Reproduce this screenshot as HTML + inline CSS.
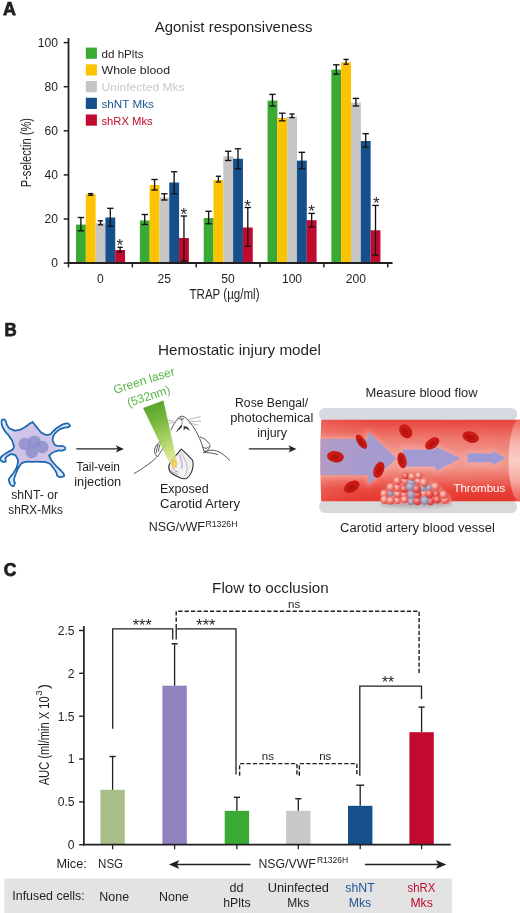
<!DOCTYPE html>
<html lang="en"><head><meta charset="utf-8"><title>Figure</title>
<style>
html,body{margin:0;padding:0;background:#fff;}
body{width:520px;height:913px;overflow:hidden;}
svg{display:block;}
svg{fill:#231f20;}
svg text{font-family:"Liberation Sans",sans-serif;}
</style></head><body>
<svg width="520" height="913" viewBox="0 0 520 913">
<defs>
<linearGradient id="beam" x1="153" y1="404" x2="173.5" y2="463" gradientUnits="userSpaceOnUse">
<stop offset="0" stop-color="#58a52c"/><stop offset="0.35" stop-color="#79b93a" stop-opacity="0.95"/><stop offset="0.75" stop-color="#b8d862" stop-opacity="0.85"/><stop offset="1" stop-color="#e6ec8c" stop-opacity="0.8"/>
</linearGradient>
<radialGradient id="glow"><stop offset="0" stop-color="#fff3a0"/><stop offset="0.45" stop-color="#f9c04a"/><stop offset="1" stop-color="#f0a040" stop-opacity="0"/></radialGradient>
<linearGradient id="lumv" x1="0" y1="419.8" x2="0" y2="501.3" gradientUnits="userSpaceOnUse">
<stop offset="0" stop-color="#e8463e"/><stop offset="0.08" stop-color="#ea564d"/><stop offset="0.25" stop-color="#ef7f75"/><stop offset="0.45" stop-color="#f39b91"/><stop offset="0.58" stop-color="#f39b91"/><stop offset="0.72" stop-color="#ee7268"/><stop offset="0.86" stop-color="#e8443a"/><stop offset="1" stop-color="#e6342a"/>
</linearGradient>
<linearGradient id="lumh" x1="320" y1="0" x2="510" y2="0" gradientUnits="userSpaceOnUse">
<stop offset="0" stop-color="#f7b0a8" stop-opacity="0.2"/><stop offset="0.4" stop-color="#e8392f" stop-opacity="0"/><stop offset="1" stop-color="#e6352e" stop-opacity="0.08"/>
</linearGradient>
<linearGradient id="cap" x1="0" y1="419.8" x2="0" y2="501.3" gradientUnits="userSpaceOnUse">
<stop offset="0" stop-color="#ed6c62"/><stop offset="0.28" stop-color="#f6b4ac"/><stop offset="0.5" stop-color="#f9cdc6"/><stop offset="0.72" stop-color="#f6b0a7"/><stop offset="1" stop-color="#ec5d52"/>
</linearGradient>
<linearGradient id="arr1" x1="320" y1="0" x2="397" y2="0" gradientUnits="userSpaceOnUse">
<stop offset="0" stop-color="#b29bc6"/><stop offset="0.5" stop-color="#a99bcd"/><stop offset="1" stop-color="#a59bd0"/>
</linearGradient>
<radialGradient id="rbc" cx="0.45" cy="0.4" r="0.7"><stop offset="0" stop-color="#d41e18"/><stop offset="0.65" stop-color="#c91813"/><stop offset="1" stop-color="#a60f0c"/></radialGradient>
<radialGradient id="sp1" cx="0.38" cy="0.35" r="0.75"><stop offset="0" stop-color="#fcdad5"/><stop offset="0.45" stop-color="#f2837b"/><stop offset="1" stop-color="#da3a35"/></radialGradient>
<radialGradient id="sp2" cx="0.38" cy="0.35" r="0.75"><stop offset="0" stop-color="#f8b8b0"/><stop offset="0.5" stop-color="#e8554e"/><stop offset="1" stop-color="#cb2a28"/></radialGradient>
<radialGradient id="plt" cx="0.4" cy="0.38" r="0.75"><stop offset="0" stop-color="#cbc6da"/><stop offset="0.55" stop-color="#9a93b6"/><stop offset="1" stop-color="#7c759a"/></radialGradient>
<radialGradient id="cellf" cx="33" cy="447" r="36" gradientUnits="userSpaceOnUse"><stop offset="0" stop-color="#cdbfe3"/><stop offset="0.55" stop-color="#d2c4e8"/><stop offset="0.8" stop-color="#d6d9f4"/><stop offset="1" stop-color="#dfeafb"/></radialGradient>
<filter id="blur04"><feGaussianBlur stdDeviation="0.45"/></filter>
<filter id="blur05"><feGaussianBlur stdDeviation="0.5"/></filter>
<filter id="blur3" x="-20%" y="-20%" width="140%" height="140%"><feGaussianBlur stdDeviation="2.4"/></filter>
<filter id="blur1" x="-20%" y="-50%" width="140%" height="200%"><feGaussianBlur stdDeviation="1.5"/></filter>
</defs>
<g id="panelA">
<text x="3.0" y="14.8" font-size="17.5" textLength="13.0" lengthAdjust="spacingAndGlyphs" font-weight="bold" stroke="#231f20" stroke-width="0.75" stroke-linejoin="round">A</text>
<text x="154.7" y="32.4" font-size="14.3" textLength="157.8" lengthAdjust="spacingAndGlyphs">Agonist responsiveness</text>
<rect x="76.00" y="224.60" width="9.85" height="38.40" fill="#3aaa35"/>
<rect x="85.80" y="194.20" width="9.85" height="68.80" fill="#fdc300"/>
<rect x="95.60" y="223.30" width="9.85" height="39.70" fill="#c6c6c6"/>
<rect x="105.40" y="217.50" width="9.85" height="45.50" fill="#15508d"/>
<rect x="115.20" y="250.00" width="9.85" height="13.00" fill="#c10a2e"/>
<rect x="139.85" y="220.50" width="9.85" height="42.50" fill="#3aaa35"/>
<rect x="149.65" y="185.00" width="9.85" height="78.00" fill="#fdc300"/>
<rect x="159.45" y="197.50" width="9.85" height="65.50" fill="#c6c6c6"/>
<rect x="169.25" y="182.50" width="9.85" height="80.50" fill="#15508d"/>
<rect x="179.05" y="238.00" width="9.85" height="25.00" fill="#c10a2e"/>
<rect x="203.70" y="218.00" width="9.85" height="45.00" fill="#3aaa35"/>
<rect x="213.50" y="180.00" width="9.85" height="83.00" fill="#fdc300"/>
<rect x="223.30" y="156.25" width="9.85" height="106.75" fill="#c6c6c6"/>
<rect x="233.10" y="158.75" width="9.85" height="104.25" fill="#15508d"/>
<rect x="242.90" y="227.50" width="9.85" height="35.50" fill="#c10a2e"/>
<rect x="267.55" y="100.60" width="9.85" height="162.40" fill="#3aaa35"/>
<rect x="277.35" y="118.00" width="9.85" height="145.00" fill="#fdc300"/>
<rect x="287.15" y="116.70" width="9.85" height="146.30" fill="#c6c6c6"/>
<rect x="296.95" y="160.60" width="9.85" height="102.40" fill="#15508d"/>
<rect x="306.75" y="220.20" width="9.85" height="42.80" fill="#c10a2e"/>
<rect x="331.40" y="69.60" width="9.85" height="193.40" fill="#3aaa35"/>
<rect x="341.20" y="62.30" width="9.85" height="200.70" fill="#fdc300"/>
<rect x="351.00" y="102.70" width="9.85" height="160.30" fill="#c6c6c6"/>
<rect x="360.80" y="141.00" width="9.85" height="122.00" fill="#15508d"/>
<rect x="370.60" y="230.30" width="9.85" height="32.70" fill="#c10a2e"/>
<line x1="80.90" y1="217.5" x2="80.90" y2="230.8" stroke="#141414" stroke-width="1.35"/>
<line x1="77.70" y1="217.5" x2="84.10" y2="217.5" stroke="#141414" stroke-width="1.35"/>
<line x1="77.70" y1="230.8" x2="84.10" y2="230.8" stroke="#141414" stroke-width="1.35"/>
<line x1="90.70" y1="193.6" x2="90.70" y2="195.3" stroke="#141414" stroke-width="1.35"/>
<line x1="88.10" y1="193.6" x2="93.30" y2="193.6" stroke="#141414" stroke-width="1.35"/>
<line x1="88.10" y1="195.3" x2="93.30" y2="195.3" stroke="#141414" stroke-width="1.35"/>
<line x1="100.50" y1="220.8" x2="100.50" y2="224.8" stroke="#141414" stroke-width="1.35"/>
<line x1="97.90" y1="220.8" x2="103.10" y2="220.8" stroke="#141414" stroke-width="1.35"/>
<line x1="97.90" y1="224.8" x2="103.10" y2="224.8" stroke="#141414" stroke-width="1.35"/>
<line x1="110.30" y1="208.3" x2="110.30" y2="226.2" stroke="#141414" stroke-width="1.35"/>
<line x1="107.10" y1="208.3" x2="113.50" y2="208.3" stroke="#141414" stroke-width="1.35"/>
<line x1="107.10" y1="226.2" x2="113.50" y2="226.2" stroke="#141414" stroke-width="1.35"/>
<line x1="120.10" y1="247.3" x2="120.10" y2="252.0" stroke="#141414" stroke-width="1.35"/>
<line x1="117.50" y1="247.3" x2="122.70" y2="247.3" stroke="#141414" stroke-width="1.35"/>
<line x1="117.50" y1="252.0" x2="122.70" y2="252.0" stroke="#141414" stroke-width="1.35"/>
<line x1="144.75" y1="214.5" x2="144.75" y2="224.5" stroke="#141414" stroke-width="1.35"/>
<line x1="141.55" y1="214.5" x2="147.95" y2="214.5" stroke="#141414" stroke-width="1.35"/>
<line x1="141.55" y1="224.5" x2="147.95" y2="224.5" stroke="#141414" stroke-width="1.35"/>
<line x1="154.55" y1="179.5" x2="154.55" y2="190.0" stroke="#141414" stroke-width="1.35"/>
<line x1="151.35" y1="179.5" x2="157.75" y2="179.5" stroke="#141414" stroke-width="1.35"/>
<line x1="151.35" y1="190.0" x2="157.75" y2="190.0" stroke="#141414" stroke-width="1.35"/>
<line x1="164.35" y1="193.75" x2="164.35" y2="200.0" stroke="#141414" stroke-width="1.35"/>
<line x1="161.15" y1="193.75" x2="167.55" y2="193.75" stroke="#141414" stroke-width="1.35"/>
<line x1="161.15" y1="200.0" x2="167.55" y2="200.0" stroke="#141414" stroke-width="1.35"/>
<line x1="174.15" y1="171.75" x2="174.15" y2="193.75" stroke="#141414" stroke-width="1.35"/>
<line x1="170.95" y1="171.75" x2="177.35" y2="171.75" stroke="#141414" stroke-width="1.35"/>
<line x1="170.95" y1="193.75" x2="177.35" y2="193.75" stroke="#141414" stroke-width="1.35"/>
<line x1="183.95" y1="216.0" x2="183.95" y2="261.0" stroke="#141414" stroke-width="1.35"/>
<line x1="180.75" y1="216.0" x2="187.15" y2="216.0" stroke="#141414" stroke-width="1.35"/>
<line x1="180.75" y1="261.0" x2="187.15" y2="261.0" stroke="#141414" stroke-width="1.35"/>
<line x1="208.60" y1="211.25" x2="208.60" y2="223.75" stroke="#141414" stroke-width="1.35"/>
<line x1="205.40" y1="211.25" x2="211.80" y2="211.25" stroke="#141414" stroke-width="1.35"/>
<line x1="205.40" y1="223.75" x2="211.80" y2="223.75" stroke="#141414" stroke-width="1.35"/>
<line x1="218.40" y1="176.25" x2="218.40" y2="182.0" stroke="#141414" stroke-width="1.35"/>
<line x1="215.80" y1="176.25" x2="221.00" y2="176.25" stroke="#141414" stroke-width="1.35"/>
<line x1="215.80" y1="182.0" x2="221.00" y2="182.0" stroke="#141414" stroke-width="1.35"/>
<line x1="228.20" y1="151.25" x2="228.20" y2="160.5" stroke="#141414" stroke-width="1.35"/>
<line x1="225.00" y1="151.25" x2="231.40" y2="151.25" stroke="#141414" stroke-width="1.35"/>
<line x1="225.00" y1="160.5" x2="231.40" y2="160.5" stroke="#141414" stroke-width="1.35"/>
<line x1="238.00" y1="148.75" x2="238.00" y2="168.75" stroke="#141414" stroke-width="1.35"/>
<line x1="234.80" y1="148.75" x2="241.20" y2="148.75" stroke="#141414" stroke-width="1.35"/>
<line x1="234.80" y1="168.75" x2="241.20" y2="168.75" stroke="#141414" stroke-width="1.35"/>
<line x1="247.80" y1="207.5" x2="247.80" y2="246.25" stroke="#141414" stroke-width="1.35"/>
<line x1="244.60" y1="207.5" x2="251.00" y2="207.5" stroke="#141414" stroke-width="1.35"/>
<line x1="244.60" y1="246.25" x2="251.00" y2="246.25" stroke="#141414" stroke-width="1.35"/>
<line x1="272.45" y1="94.4" x2="272.45" y2="106.0" stroke="#141414" stroke-width="1.35"/>
<line x1="269.25" y1="94.4" x2="275.65" y2="94.4" stroke="#141414" stroke-width="1.35"/>
<line x1="269.25" y1="106.0" x2="275.65" y2="106.0" stroke="#141414" stroke-width="1.35"/>
<line x1="282.25" y1="113.2" x2="282.25" y2="120.8" stroke="#141414" stroke-width="1.35"/>
<line x1="279.05" y1="113.2" x2="285.45" y2="113.2" stroke="#141414" stroke-width="1.35"/>
<line x1="279.05" y1="120.8" x2="285.45" y2="120.8" stroke="#141414" stroke-width="1.35"/>
<line x1="292.05" y1="114.0" x2="292.05" y2="117.6" stroke="#141414" stroke-width="1.35"/>
<line x1="289.45" y1="114.0" x2="294.65" y2="114.0" stroke="#141414" stroke-width="1.35"/>
<line x1="289.45" y1="117.6" x2="294.65" y2="117.6" stroke="#141414" stroke-width="1.35"/>
<line x1="301.85" y1="152.3" x2="301.85" y2="168.7" stroke="#141414" stroke-width="1.35"/>
<line x1="298.65" y1="152.3" x2="305.05" y2="152.3" stroke="#141414" stroke-width="1.35"/>
<line x1="298.65" y1="168.7" x2="305.05" y2="168.7" stroke="#141414" stroke-width="1.35"/>
<line x1="311.65" y1="213.4" x2="311.65" y2="227.0" stroke="#141414" stroke-width="1.35"/>
<line x1="308.45" y1="213.4" x2="314.85" y2="213.4" stroke="#141414" stroke-width="1.35"/>
<line x1="308.45" y1="227.0" x2="314.85" y2="227.0" stroke="#141414" stroke-width="1.35"/>
<line x1="336.30" y1="64.8" x2="336.30" y2="74.2" stroke="#141414" stroke-width="1.35"/>
<line x1="333.10" y1="64.8" x2="339.50" y2="64.8" stroke="#141414" stroke-width="1.35"/>
<line x1="333.10" y1="74.2" x2="339.50" y2="74.2" stroke="#141414" stroke-width="1.35"/>
<line x1="346.10" y1="59.4" x2="346.10" y2="64.2" stroke="#141414" stroke-width="1.35"/>
<line x1="343.50" y1="59.4" x2="348.70" y2="59.4" stroke="#141414" stroke-width="1.35"/>
<line x1="343.50" y1="64.2" x2="348.70" y2="64.2" stroke="#141414" stroke-width="1.35"/>
<line x1="355.90" y1="98.4" x2="355.90" y2="106.0" stroke="#141414" stroke-width="1.35"/>
<line x1="352.70" y1="98.4" x2="359.10" y2="98.4" stroke="#141414" stroke-width="1.35"/>
<line x1="352.70" y1="106.0" x2="359.10" y2="106.0" stroke="#141414" stroke-width="1.35"/>
<line x1="365.70" y1="133.7" x2="365.70" y2="147.2" stroke="#141414" stroke-width="1.35"/>
<line x1="362.50" y1="133.7" x2="368.90" y2="133.7" stroke="#141414" stroke-width="1.35"/>
<line x1="362.50" y1="147.2" x2="368.90" y2="147.2" stroke="#141414" stroke-width="1.35"/>
<line x1="375.50" y1="205.4" x2="375.50" y2="255.1" stroke="#141414" stroke-width="1.35"/>
<line x1="372.30" y1="205.4" x2="378.70" y2="205.4" stroke="#141414" stroke-width="1.35"/>
<line x1="372.30" y1="255.1" x2="378.70" y2="255.1" stroke="#141414" stroke-width="1.35"/>
<text x="119.8" y="250.9" font-size="17" text-anchor="middle">*</text>
<text x="183.75" y="220.0" font-size="17" text-anchor="middle">*</text>
<text x="247.5" y="212.0" font-size="17" text-anchor="middle">*</text>
<text x="311.6" y="217.0" font-size="17" text-anchor="middle">*</text>
<text x="376.3" y="209.0" font-size="17" text-anchor="middle">*</text>
<line x1="68.5" y1="38" x2="68.5" y2="263.9" stroke="#231f20" stroke-width="1.8"/>
<line x1="67.6" y1="263.0" x2="392.6" y2="263.0" stroke="#231f20" stroke-width="1.8"/>
<line x1="63.7" y1="263.1" x2="68.5" y2="263.1" stroke="#231f20" stroke-width="1.5"/>
<text x="58.0" y="267.3" font-size="12.1" text-anchor="end">0</text>
<line x1="63.7" y1="219.0" x2="68.5" y2="219.0" stroke="#231f20" stroke-width="1.5"/>
<text x="58.0" y="223.2" font-size="12.1" text-anchor="end">20</text>
<line x1="63.7" y1="174.9" x2="68.5" y2="174.9" stroke="#231f20" stroke-width="1.5"/>
<text x="58.0" y="179.1" font-size="12.1" text-anchor="end">40</text>
<line x1="63.7" y1="130.8" x2="68.5" y2="130.8" stroke="#231f20" stroke-width="1.5"/>
<text x="58.0" y="135.0" font-size="12.1" text-anchor="end">60</text>
<line x1="63.7" y1="86.7" x2="68.5" y2="86.7" stroke="#231f20" stroke-width="1.5"/>
<text x="58.0" y="90.9" font-size="12.1" text-anchor="end">80</text>
<line x1="63.7" y1="42.6" x2="68.5" y2="42.6" stroke="#231f20" stroke-width="1.5"/>
<text x="58.0" y="46.8" font-size="12.1" text-anchor="end">100</text>
<line x1="68.50" y1="263.0" x2="68.50" y2="267.4" stroke="#231f20" stroke-width="1.5"/>
<line x1="132.35" y1="263.0" x2="132.35" y2="267.4" stroke="#231f20" stroke-width="1.5"/>
<line x1="196.20" y1="263.0" x2="196.20" y2="267.4" stroke="#231f20" stroke-width="1.5"/>
<line x1="260.05" y1="263.0" x2="260.05" y2="267.4" stroke="#231f20" stroke-width="1.5"/>
<line x1="323.90" y1="263.0" x2="323.90" y2="267.4" stroke="#231f20" stroke-width="1.5"/>
<line x1="387.75" y1="263.0" x2="387.75" y2="267.4" stroke="#231f20" stroke-width="1.5"/>
<text x="100.4" y="282.6" font-size="12.1" text-anchor="middle">0</text>
<text x="164.3" y="282.6" font-size="12.1" text-anchor="middle">25</text>
<text x="228.1" y="282.6" font-size="12.1" text-anchor="middle">50</text>
<text x="292.0" y="282.6" font-size="12.1" text-anchor="middle">100</text>
<text x="355.8" y="282.6" font-size="12.1" text-anchor="middle">200</text>
<text x="189.5" y="298.7" font-size="14.4" textLength="70" lengthAdjust="spacingAndGlyphs">TRAP (µg/ml)</text>
<text x="30.7" y="187.3" font-size="15.2" textLength="69.4" lengthAdjust="spacingAndGlyphs" transform="rotate(-90 30.7 187.3)">P-selectin (%)</text>
<rect x="85.80" y="47.60" width="11.10" height="11.20" fill="#3aaa35"/>
<text x="101.5" y="57.7" font-size="11.6" textLength="42" lengthAdjust="spacingAndGlyphs">dd hPlts</text>
<rect x="85.80" y="64.32" width="11.10" height="11.20" fill="#fdc300"/>
<text x="101.5" y="74.4" font-size="11.6" textLength="68.5" lengthAdjust="spacingAndGlyphs">Whole blood</text>
<rect x="85.80" y="81.04" width="11.10" height="11.20" fill="#c6c6c6"/>
<text x="101.5" y="91.1" font-size="11.6" fill="#c9c9c9" textLength="83" lengthAdjust="spacingAndGlyphs">Uninfected Mks</text>
<rect x="85.80" y="97.76" width="11.10" height="11.20" fill="#15508d"/>
<text x="101.5" y="107.9" font-size="11.6" fill="#1d5794" textLength="52.3" lengthAdjust="spacingAndGlyphs">shNT Mks</text>
<rect x="85.80" y="114.48" width="11.10" height="11.20" fill="#c10a2e"/>
<text x="101.5" y="124.6" font-size="11.6" fill="#c10a2e" textLength="51.2" lengthAdjust="spacingAndGlyphs">shRX Mks</text>
</g>
<g id="panelB">
<text x="4.4" y="335.7" font-size="17.5" textLength="12.2" lengthAdjust="spacingAndGlyphs" font-weight="bold" stroke="#231f20" stroke-width="0.75" stroke-linejoin="round">B</text>
<text x="158" y="354.8" font-size="14.3" textLength="163" lengthAdjust="spacingAndGlyphs">Hemostatic injury model</text>
<path d="M3.3,419.5 C4.7,419.1 4.3,419.1 5.7,421.2 C7.1,423.3 5.5,423.0 7.4,425.7 C9.3,428.4 7.9,427.9 11.5,429.4 C15.1,430.9 13.7,430.9 18.1,430.2 C22.5,429.5 20.2,429.8 24.6,427.3 C29.0,424.8 28.2,424.1 31.2,422.8 C34.2,421.5 31.3,421.3 33.6,423.4 C35.9,425.5 35.0,425.6 38.2,429.0 C41.4,432.4 39.5,431.6 43.1,433.5 C46.7,435.4 45.6,435.4 48.9,434.7 C52.2,434.0 50.0,433.9 53.0,431.4 C56.0,428.9 53.8,429.9 57.9,427.3 C62.0,424.7 61.5,424.4 65.3,423.6 C69.1,422.8 68.3,423.8 69.4,424.9 C70.5,426.0 70.8,425.8 68.6,426.9 C66.4,428.0 66.7,426.6 62.9,428.1 C59.1,429.6 60.4,428.4 57.1,431.4 C53.8,434.4 54.1,433.4 53.0,437.2 C51.9,441.0 52.4,440.0 53.8,442.9 C55.2,445.8 54.1,444.7 57.1,445.8 C60.1,446.9 60.2,445.4 62.9,446.2 C65.6,447.0 65.3,446.9 65.3,448.3 C65.3,449.7 65.9,449.4 62.9,450.3 C59.9,451.2 60.4,449.7 56.3,451.1 C52.2,452.5 52.6,452.2 50.5,454.4 C48.4,456.6 48.7,454.4 50.1,457.7 C51.5,461.0 50.9,459.9 54.6,464.3 C58.3,468.7 58.2,467.6 61.2,470.9 C64.2,474.2 63.1,472.2 63.7,474.1 C64.3,476.0 64.8,475.9 62.9,476.6 C61.0,477.3 60.1,477.6 57.9,476.2 C55.7,474.8 57.9,475.4 56.3,472.5 C54.7,469.6 55.7,470.8 53.0,467.6 C50.3,464.4 52.5,464.9 48.1,463.0 C43.7,461.1 45.0,462.2 39.9,461.8 C34.8,461.4 38.0,461.7 32.9,461.8 C27.8,461.9 29.0,460.8 24.6,462.2 C20.2,463.6 22.4,462.5 19.7,465.9 C17.0,469.3 18.3,467.8 16.4,472.5 C14.5,477.2 14.5,476.3 14.0,479.9 C13.5,483.5 15.4,481.2 14.8,483.2 C14.2,485.2 14.2,486.8 12.3,486.0 C10.4,485.2 9.5,483.8 9.0,480.7 C8.5,477.6 8.8,479.9 10.7,476.6 C12.6,473.3 12.5,475.3 14.8,470.9 C17.1,466.5 17.0,467.9 17.7,463.5 C18.4,459.1 18.3,460.7 16.8,457.7 C15.3,454.7 16.0,455.1 13.1,454.4 C10.2,453.7 10.7,454.3 8.2,455.7 C5.7,457.1 6.7,456.5 5.7,458.5 C4.7,460.5 6.7,461.0 5.3,461.8 C3.9,462.6 3.2,462.1 1.6,461.0 C-0.0,459.9 -0.2,460.4 0.4,458.5 C1.0,456.6 0.7,457.4 3.3,455.2 C5.9,453.0 4.9,454.2 8.2,452.0 C11.5,449.8 11.5,451.5 13.1,448.7 C14.7,445.9 14.2,447.5 13.1,443.7 C12.0,439.9 12.9,441.8 9.9,437.2 C6.9,432.6 6.9,434.7 4.1,429.8 C1.3,424.9 1.9,425.8 1.6,422.4 C1.3,419.0 1.9,419.9 3.3,419.5 Z" fill="url(#cellf)" stroke="#1a69ae" stroke-width="1.75" stroke-linejoin="round"/>
<circle cx="24.8" cy="444" r="6.2" fill="#8186c8" fill-opacity="0.72" filter="url(#blur05)"/>
<circle cx="34.5" cy="441.6" r="6.2" fill="#8186c8" fill-opacity="0.72" filter="url(#blur05)"/>
<circle cx="42.3" cy="447" r="6.2" fill="#8186c8" fill-opacity="0.72" filter="url(#blur05)"/>
<circle cx="31.8" cy="452" r="6.2" fill="#8186c8" fill-opacity="0.72" filter="url(#blur05)"/>
<text x="11.2" y="498.7" font-size="12" textLength="46.8" lengthAdjust="spacingAndGlyphs">shNT- or</text>
<text x="8.2" y="513.7" font-size="12" textLength="54.8" lengthAdjust="spacingAndGlyphs">shRX-Mks</text>
<line x1="76.2" y1="448.9" x2="119.0" y2="448.9" stroke="#231f20" stroke-width="1.4"/>
<path d="M123.8,448.9 L115.8,445.29999999999995 L117.8,448.9 L115.8,452.5 Z" fill="#231f20"/>
<text x="76.2" y="471.2" font-size="12" textLength="43.8" lengthAdjust="spacingAndGlyphs">Tail-vein</text>
<text x="74.2" y="485.7" font-size="12" textLength="47" lengthAdjust="spacingAndGlyphs">injection</text>
<text x="114.9" y="393.9" font-size="12.2" fill="#58b548" textLength="63.8" lengthAdjust="spacingAndGlyphs" transform="rotate(-17.5 114.9 393.9)">Green laser</text>
<text x="128.7" y="406.9" font-size="12.2" fill="#58b548" textLength="44.6" lengthAdjust="spacingAndGlyphs" transform="rotate(-18 128.7 406.9)">(532nm)</text>
<g fill="none" stroke="#3a3a3a" stroke-width="0.85" stroke-linecap="round" stroke-linejoin="round">
<path d="M171,430 C172.5,426 175.5,421.5 178.5,418 C180,416 182.5,415.6 184.5,417 C188,419.5 192,424.5 195,429.5 C198.5,435.5 201.5,442 203,448 C203.5,450 204.2,451.2 204.7,451.7 C208,450.5 211.5,450 214.2,450.3 C217.5,450.8 220.5,452.5 222.9,454.3 C225.5,456.3 228,458.6 229.8,460.4"/>
<path d="M200.4,437 C203.5,438 206.3,440 208.1,442.2 C209.8,444.3 210.5,445.6 209.9,446.5 C209,448 208.3,449.8 207.3,450.8 C206,451.6 204.6,451.4 203.8,450.8"/>
<path d="M203.5,447.5 C205.5,448.8 207.4,448.6 208.6,446.8"/>
<path d="M203.3,452.6 C207.5,452.4 213,453 217.7,454.6"/>
<path d="M188.3,419.7 L200.4,416.6 M189.6,421.4 L200.6,421.2 M188.8,423 L198,425" stroke-width="0.5" stroke="#777"/>
<path d="M168.2,420.4 L174.2,421.2 M167.6,423 L173.6,422.8" stroke-width="0.5" stroke="#777"/>
<path d="M178.5,418 C179.5,419.5 181.5,420 183.8,418.6"/>
<path d="M162.3,440.5 C159.8,441.6 157.6,443.4 156.2,445.7 C154.8,448 154.2,450 154.5,451.7 C154.9,453.8 155.8,455.6 157.1,456.9 C158.6,455.2 160.2,453 161.4,450.8 C162.8,448.3 164.2,446 165.6,444.4"/>
<path d="M158.2,444.4 C157,446.8 156.4,449.6 156.6,452.4 M160.6,443.2 C159.4,445.6 158.6,448.4 158.6,451.2"/>
<path d="M156.2,457.6 C153.2,460.6 149.4,463.6 145,466.6 C141.4,469.2 137.6,471.8 134.2,473.4"/>
</g>
<path d="M175.8,432.4 C177.4,429.6 179.4,426.6 181.9,424.2 C182.3,425.6 182,427 181.2,428 C179.6,429.4 177.6,431 175.8,432.4 Z" fill="#3a3a3a"/>
<path d="M183.4,426.6 C185.2,425.8 187,426.4 188.2,427.8 C189,428.8 189.4,429.8 189.5,430.9 C188.2,429.6 186.8,428.8 185.4,428.6 C184.8,429.4 184.2,430 183.6,430.4 C183.8,429 183.7,427.8 183.4,426.6 Z" fill="#3a3a3a"/>
<path d="M180.9,417.2 C181.6,419.6 182.2,422 182.4,424.4" fill="none" stroke="#3a3a3a" stroke-width="0.6"/>
<path d="M181.3,449.1 C185,452.5 189.5,456.5 192.6,460.4 C193.6,464 193,468 191.7,471.6 C190.4,474.6 188.6,477.2 186.5,478.5 C183.6,479.2 180.6,478.4 177.9,476.8 C174.8,475.4 171.8,473.8 170.1,471.6 C168.6,469.4 168.6,466.8 169.2,464.7 C170.6,461.2 173.4,457.8 176.1,455.2 C177.8,453.2 179.6,451 181.3,449.1 Z" fill="#f1f0f3" stroke="#2c2c2c" stroke-width="1.05" stroke-linejoin="round"/>
<path d="M181,452 C184,457 186.5,462 187.2,467 C187.6,470.6 186.4,474 184.2,476.4" fill="none" stroke="#8a8a8a" stroke-width="0.6"/>
<path d="M179.4,455 C181.4,459 182.4,463.4 181.8,468 " fill="none" stroke="#b49ad0" stroke-width="1.6" stroke-linecap="round" stroke-opacity="0.7"/>
<path d="M171,470.5 C172.5,472.2 175,473.6 178,474.6 M172.4,467.6 C173.4,469.8 175.4,471.4 178.4,472.2" fill="none" stroke="#666" stroke-width="0.6"/>
<polygon points="143.1,408 163.4,400.6 177.2,462.4 169.6,463.6" fill="url(#beam)"/>
<ellipse cx="174.4" cy="463.8" rx="3.6" ry="5.2" fill="url(#glow)"/>
<text x="160" y="493" font-size="12" textLength="48.7" lengthAdjust="spacingAndGlyphs">Exposed</text>
<text x="160" y="508" font-size="12" textLength="80" lengthAdjust="spacingAndGlyphs">Carotid Artery</text>
<text x="148.7" y="531.2" font-size="12.6" textLength="56.3" lengthAdjust="spacingAndGlyphs">NSG/vWF</text>
<text x="205.4" y="527" font-size="8.7" textLength="32.2" lengthAdjust="spacingAndGlyphs">R1326H</text>
<text x="235.1" y="406.8" font-size="12" textLength="73" lengthAdjust="spacingAndGlyphs">Rose Bengal/</text>
<text x="230.2" y="422" font-size="12" textLength="83.2" lengthAdjust="spacingAndGlyphs">photochemical</text>
<text x="257.3" y="436.8" font-size="12" textLength="29.6" lengthAdjust="spacingAndGlyphs">injury</text>
<line x1="248.8" y1="448.9" x2="291.59999999999997" y2="448.9" stroke="#231f20" stroke-width="1.4"/>
<path d="M296.4,448.9 L288.4,445.29999999999995 L290.4,448.9 L288.4,452.5 Z" fill="#231f20"/>
<text x="365.6" y="397" font-size="12" textLength="112" lengthAdjust="spacingAndGlyphs">Measure blood flow</text>
<text x="340" y="531.5" font-size="12" textLength="155" lengthAdjust="spacingAndGlyphs">Carotid artery blood vessel</text>
<rect x="319.2" y="407.9" width="197.8" height="12.6" rx="5.5" fill="#d6dbe2"/>
<rect x="319.2" y="500.6" width="197.8" height="12.3" rx="5.5" fill="#d9d9da"/>
<clipPath id="lum"><path d="M321.2,419.8 L520,419.8 L520,501.3 L321.2,501.3 Q319.6,460.5 321.2,419.8 Z"/></clipPath>
<g clip-path="url(#lum)">
<rect x="319" y="419" width="202" height="83" fill="url(#lumv)"/>
<rect x="319" y="419" width="202" height="83" fill="url(#lumh)"/>
<ellipse cx="520.3" cy="460.5" rx="11.8" ry="42" fill="url(#cap)"/>
<g filter="url(#blur3)" fill="#f6b7b0" fill-opacity="0.5">
<path d="M318,437 L366,437 L366,428 L400,458.2 L366,488 L366,478 L318,478 Z"/>
<path d="M400,446.5 L433,446.5 L433,443 L464,458.2 L433,474 L433,469.5 L400,469.5 Z"/>
<path d="M465,451 L491,451 L491,447.5 L508,458.2 L491,469 L491,465 L465,465 Z"/>
</g>
<path d="M318,439.1 L368.2,439.1 L368.2,431.7 L396.7,458.2 L368.2,484.6 L368.2,475.1 L318,475.1 Z" fill="url(#arr1)" filter="url(#blur04)"/>
<path d="M403,449.4 L435.4,449.4 L435.4,446.6 L460.8,458.2 L435.4,471.2 L435.4,466.6 L403,466.6 Z" fill="#a29ad2"/>
<path d="M467.5,453.5 L492.6,453.5 L492.6,450.8 L505.8,458 L492.6,465.3 L492.6,462.2 L467.5,462.2 Z" fill="#9c9ad6"/>
</g>
<g transform="translate(335.4 456.7) rotate(8)"><ellipse rx="8.4" ry="5.6" fill="url(#rbc)"/><ellipse cx="-0.42" cy="0.28" rx="4.20" ry="2.52" fill="#a10e0b" fill-opacity="0.6"/></g>
<g transform="translate(361.4 441.7) rotate(55)"><ellipse rx="8.2" ry="3.9" fill="url(#rbc)"/><ellipse cx="-0.41" cy="0.20" rx="4.10" ry="1.75" fill="#a10e0b" fill-opacity="0.6"/></g>
<g transform="translate(405.8 431.3) rotate(50)"><ellipse rx="7.6" ry="5.8" fill="url(#rbc)"/><ellipse cx="-0.38" cy="0.29" rx="3.80" ry="2.61" fill="#a10e0b" fill-opacity="0.6"/></g>
<g transform="translate(378.8 469.8) rotate(-68)"><ellipse rx="8.4" ry="5.0" fill="url(#rbc)"/><ellipse cx="-0.42" cy="0.25" rx="4.20" ry="2.25" fill="#a10e0b" fill-opacity="0.6"/></g>
<g transform="translate(402 460.3) rotate(78)"><ellipse rx="8.0" ry="4.4" fill="url(#rbc)"/><ellipse cx="-0.40" cy="0.22" rx="4.00" ry="1.98" fill="#a10e0b" fill-opacity="0.6"/></g>
<g transform="translate(351.7 486.7) rotate(-30)"><ellipse rx="8.4" ry="5.3" fill="url(#rbc)"/><ellipse cx="-0.42" cy="0.27" rx="4.20" ry="2.38" fill="#a10e0b" fill-opacity="0.6"/></g>
<g transform="translate(432.2 443.4) rotate(-35)"><ellipse rx="8.0" ry="4.9" fill="url(#rbc)"/><ellipse cx="-0.40" cy="0.25" rx="4.00" ry="2.21" fill="#a10e0b" fill-opacity="0.6"/></g>
<g transform="translate(470.7 437) rotate(18)"><ellipse rx="8.4" ry="5.4" fill="url(#rbc)"/><ellipse cx="-0.42" cy="0.27" rx="4.20" ry="2.43" fill="#a10e0b" fill-opacity="0.6"/></g>
<ellipse cx="416" cy="504" rx="36" ry="4" fill="#9a9aa2" fill-opacity="0.55" filter="url(#blur1)"/>
<path d="M382,503 L383,491 L392,484 L400,478 L408,473.5 L422,473.5 L430,479 L439,485 L446,492 L451,498 L451,503 Z" fill="#ee7a72" filter="url(#blur1)"/>
<circle cx="389.7" cy="493.1" r="3.8" fill="url(#plt)"/>
<circle cx="404.0" cy="494.1" r="3.9" fill="url(#sp1)"/>
<circle cx="445.0" cy="499.8" r="4.1" fill="url(#sp1)"/>
<circle cx="436.1" cy="494.2" r="3.6" fill="url(#sp2)"/>
<circle cx="405.3" cy="480.6" r="3.9" fill="url(#sp1)"/>
<circle cx="411.2" cy="501.4" r="3.6" fill="url(#plt)"/>
<circle cx="405.3" cy="476.0" r="3.5" fill="url(#sp2)"/>
<circle cx="384.3" cy="493.9" r="4.1" fill="url(#sp1)"/>
<circle cx="384.6" cy="499.8" r="4.2" fill="url(#sp1)"/>
<circle cx="417.4" cy="500.9" r="4.4" fill="url(#sp2)"/>
<circle cx="411.3" cy="482.5" r="4.3" fill="url(#plt)"/>
<circle cx="397.3" cy="500.6" r="3.5" fill="url(#sp1)"/>
<circle cx="430.3" cy="501.5" r="3.8" fill="url(#sp2)"/>
<circle cx="443.7" cy="494.8" r="4.2" fill="url(#sp1)"/>
<circle cx="424.1" cy="493.7" r="4.6" fill="url(#sp1)"/>
<circle cx="424.8" cy="500.4" r="4.5" fill="url(#plt)"/>
<circle cx="390.7" cy="500.7" r="3.9" fill="url(#sp1)"/>
<circle cx="412.1" cy="476.8" r="3.9" fill="url(#sp1)"/>
<circle cx="417.1" cy="494.3" r="4.5" fill="url(#sp2)"/>
<circle cx="418.5" cy="481.1" r="3.9" fill="url(#sp1)"/>
<circle cx="428.6" cy="487.7" r="3.8" fill="url(#plt)"/>
<circle cx="403.9" cy="488.9" r="4.1" fill="url(#sp2)"/>
<circle cx="418.7" cy="475.6" r="3.7" fill="url(#sp1)"/>
<circle cx="397.6" cy="494.0" r="3.9" fill="url(#sp1)"/>
<circle cx="429.4" cy="494.0" r="4.4" fill="url(#sp2)"/>
<circle cx="422.6" cy="487.5" r="4.3" fill="url(#plt)"/>
<circle cx="396.8" cy="488.0" r="4.1" fill="url(#sp1)"/>
<circle cx="416.7" cy="489.0" r="4.4" fill="url(#sp2)"/>
<circle cx="435.4" cy="486.7" r="4.4" fill="url(#sp1)"/>
<circle cx="397.3" cy="481.0" r="3.9" fill="url(#sp1)"/>
<circle cx="411.0" cy="494.7" r="3.8" fill="url(#plt)"/>
<circle cx="404.7" cy="499.6" r="3.6" fill="url(#sp1)"/>
<circle cx="424.1" cy="482.5" r="4.5" fill="url(#sp1)"/>
<circle cx="437.1" cy="499.7" r="3.8" fill="url(#sp2)"/>
<circle cx="390.8" cy="487.4" r="4.3" fill="url(#sp1)"/>
<circle cx="410.1" cy="486.7" r="4.3" fill="url(#plt)"/>
<text x="453.4" y="492.4" font-size="11.8" fill="#ffffff" textLength="51.8" lengthAdjust="spacingAndGlyphs">Thrombus</text>
</g>
<g id="panelC">
<text x="3.8" y="575.8" font-size="17.5" textLength="12.6" lengthAdjust="spacingAndGlyphs" font-weight="bold" stroke="#231f20" stroke-width="0.75" stroke-linejoin="round">C</text>
<text x="212.1" y="592.9" font-size="14.3" textLength="116.6" lengthAdjust="spacingAndGlyphs">Flow to occlusion</text>
<rect x="100.40" y="789.80" width="24.40" height="54.90" fill="#a9bf88"/>
<rect x="162.40" y="685.70" width="24.40" height="159.00" fill="#8f82be"/>
<rect x="224.70" y="810.80" width="24.40" height="33.90" fill="#3aaa35"/>
<rect x="286.10" y="810.80" width="24.40" height="33.90" fill="#c7c8ca"/>
<rect x="348.00" y="805.80" width="24.40" height="38.90" fill="#15508d"/>
<rect x="409.40" y="732.20" width="24.40" height="112.50" fill="#c10a2e"/>
<line x1="112.6" y1="789.8" x2="112.6" y2="756.5" stroke="#231f20" stroke-width="1.3"/>
<line x1="109.5" y1="756.5" x2="115.69999999999999" y2="756.5" stroke="#231f20" stroke-width="1.4"/>
<line x1="174.6" y1="685.7" x2="174.6" y2="643.8" stroke="#231f20" stroke-width="1.3"/>
<line x1="171.5" y1="643.8" x2="177.7" y2="643.8" stroke="#231f20" stroke-width="1.4"/>
<line x1="236.9" y1="810.8" x2="236.9" y2="797.3" stroke="#231f20" stroke-width="1.3"/>
<line x1="233.8" y1="797.3" x2="240.0" y2="797.3" stroke="#231f20" stroke-width="1.4"/>
<line x1="298.3" y1="810.8" x2="298.3" y2="798.7" stroke="#231f20" stroke-width="1.3"/>
<line x1="295.2" y1="798.7" x2="301.40000000000003" y2="798.7" stroke="#231f20" stroke-width="1.4"/>
<line x1="360.2" y1="805.8" x2="360.2" y2="785.2" stroke="#231f20" stroke-width="1.3"/>
<line x1="356.2" y1="785.2" x2="364.2" y2="785.2" stroke="#231f20" stroke-width="1.4"/>
<line x1="421.6" y1="732.2" x2="421.6" y2="707.1" stroke="#231f20" stroke-width="1.3"/>
<line x1="418.5" y1="707.1" x2="424.70000000000005" y2="707.1" stroke="#231f20" stroke-width="1.4"/>
<line x1="83.9" y1="625.9" x2="83.9" y2="845.5" stroke="#231f20" stroke-width="1.7"/>
<line x1="83.05000000000001" y1="844.7" x2="450.8" y2="844.7" stroke="#231f20" stroke-width="1.7"/>
<line x1="79.10000000000001" y1="844.7" x2="83.9" y2="844.7" stroke="#231f20" stroke-width="1.4"/>
<text x="74.5" y="849.0" font-size="12.1" text-anchor="end">0</text>
<line x1="79.10000000000001" y1="801.9" x2="83.9" y2="801.9" stroke="#231f20" stroke-width="1.4"/>
<text x="74.5" y="806.1" font-size="12.1" text-anchor="end">0.5</text>
<line x1="79.10000000000001" y1="759.0" x2="83.9" y2="759.0" stroke="#231f20" stroke-width="1.4"/>
<text x="74.5" y="763.3" font-size="12.1" text-anchor="end">1</text>
<line x1="79.10000000000001" y1="716.2" x2="83.9" y2="716.2" stroke="#231f20" stroke-width="1.4"/>
<text x="74.5" y="720.5" font-size="12.1" text-anchor="end">1.5</text>
<line x1="79.10000000000001" y1="673.3" x2="83.9" y2="673.3" stroke="#231f20" stroke-width="1.4"/>
<text x="74.5" y="677.6" font-size="12.1" text-anchor="end">2</text>
<line x1="79.10000000000001" y1="630.5" x2="83.9" y2="630.5" stroke="#231f20" stroke-width="1.4"/>
<text x="74.5" y="634.8" font-size="12.1" text-anchor="end">2.5</text>
<line x1="112.6" y1="844.7" x2="112.6" y2="849.3000000000001" stroke="#231f20" stroke-width="1.3"/>
<line x1="174.6" y1="844.7" x2="174.6" y2="849.3000000000001" stroke="#231f20" stroke-width="1.3"/>
<line x1="236.9" y1="844.7" x2="236.9" y2="849.3000000000001" stroke="#231f20" stroke-width="1.3"/>
<line x1="298.3" y1="844.7" x2="298.3" y2="849.3000000000001" stroke="#231f20" stroke-width="1.3"/>
<line x1="360.2" y1="844.7" x2="360.2" y2="849.3000000000001" stroke="#231f20" stroke-width="1.3"/>
<line x1="421.6" y1="844.7" x2="421.6" y2="849.3000000000001" stroke="#231f20" stroke-width="1.3"/>
<text x="49.1" y="785.3" font-size="14.8" textLength="88.9" lengthAdjust="spacingAndGlyphs" transform="rotate(-90 49.1 785.3)">AUC (ml/min X 10</text>
<text x="42.3" y="695.4" font-size="8.6" textLength="5.2" lengthAdjust="spacingAndGlyphs" transform="rotate(-90 42.3 695.4)">3</text>
<text x="49.1" y="689.1" font-size="14.8" textLength="5.0" lengthAdjust="spacingAndGlyphs" transform="rotate(-90 49.1 689.1)">)</text>
<path d="M112.7,728.8 L112.7,628.9 L172.7,628.9 L172.7,639.6" fill="none" stroke="#231f20" stroke-width="1.3"/>
<path d="M176.2,639.6 L176.2,628.9 L236,628.9 L236,774.4" fill="none" stroke="#231f20" stroke-width="1.3"/>
<path d="M359.8,775.8 L359.8,686.1 L421.5,686.1 L421.5,699" fill="none" stroke="#231f20" stroke-width="1.3"/>
<path d="M176.2,628.2 L176.2,611.2 L419.1,611.2 L419.1,672.9" fill="none" stroke="#231f20" stroke-width="1.4" stroke-dasharray="4.3 2.05"/>
<path d="M239.6,775.8 L239.6,763.6 L296.9,763.6 L296.9,775.8" fill="none" stroke="#231f20" stroke-width="1.4" stroke-dasharray="4.3 2.05"/>
<path d="M299.3,775.8 L299.3,763.6 L356.9,763.6 L356.9,775.8" fill="none" stroke="#231f20" stroke-width="1.4" stroke-dasharray="4.3 2.05"/>
<text x="142.2" y="630.6" font-size="16" text-anchor="middle" textLength="19" lengthAdjust="spacingAndGlyphs">***</text>
<text x="205.8" y="630.6" font-size="16" text-anchor="middle" textLength="19" lengthAdjust="spacingAndGlyphs">***</text>
<text x="388" y="687.6" font-size="16" text-anchor="middle" textLength="12.2" lengthAdjust="spacingAndGlyphs">**</text>
<text x="288.0" y="607.9" font-size="11.8" textLength="12.2" lengthAdjust="spacingAndGlyphs">ns</text>
<text x="261.8" y="760.3" font-size="11.8" textLength="12.2" lengthAdjust="spacingAndGlyphs">ns</text>
<text x="319.2" y="760.3" font-size="11.8" textLength="12.2" lengthAdjust="spacingAndGlyphs">ns</text>
<text x="56.4" y="868" font-size="12.2" textLength="30.4" lengthAdjust="spacingAndGlyphs">Mice:</text>
<text x="98.1" y="868" font-size="12.2" textLength="25" lengthAdjust="spacingAndGlyphs">NSG</text>
<text x="258.5" y="868" font-size="12.2" textLength="57.2" lengthAdjust="spacingAndGlyphs">NSG/VWF</text>
<text x="316.9" y="862.8" font-size="8.7" textLength="31.4" lengthAdjust="spacingAndGlyphs">R1326H</text>
<line x1="174" y1="864.5" x2="250.5" y2="864.5" stroke="#231f20" stroke-width="1.4"/>
<path d="M168.9,864.5 L179.4,860.1 L176.9,864.5 L179.4,868.9 Z" fill="#231f20"/>
<line x1="364.9" y1="864.5" x2="441" y2="864.5" stroke="#231f20" stroke-width="1.4"/>
<path d="M446.3,864.5 L435.8,860.1 L438.3,864.5 L435.8,868.9 Z" fill="#231f20"/>
<rect x="4.20" y="878.60" width="447.70" height="36.00" fill="#e3e3e3"/>
<text x="12.3" y="900.3" font-size="12.2" textLength="72.4" lengthAdjust="spacingAndGlyphs">Infused cells:</text>
<text x="99.3" y="900.6" font-size="12.2" textLength="29.8" lengthAdjust="spacingAndGlyphs">None</text>
<text x="159" y="900.6" font-size="12.2" textLength="29.8" lengthAdjust="spacingAndGlyphs">None</text>
<text x="236.4" y="892.3" font-size="12.2" text-anchor="middle" textLength="14" lengthAdjust="spacingAndGlyphs">dd</text>
<text x="236.9" y="907.4" font-size="12.2" text-anchor="middle" textLength="27.4" lengthAdjust="spacingAndGlyphs">hPlts</text>
<text x="298.3" y="892.3" font-size="12.2" text-anchor="middle" textLength="61.2" lengthAdjust="spacingAndGlyphs">Uninfected</text>
<text x="298.3" y="907" font-size="12.2" text-anchor="middle" textLength="22" lengthAdjust="spacingAndGlyphs">Mks</text>
<text x="360" y="891.6" font-size="12.2" text-anchor="middle" fill="#1d5794" textLength="29.4" lengthAdjust="spacingAndGlyphs">shNT</text>
<text x="360" y="907" font-size="12.2" text-anchor="middle" fill="#1d5794" textLength="22.4" lengthAdjust="spacingAndGlyphs">Mks</text>
<text x="421.4" y="891.6" font-size="12.2" text-anchor="middle" fill="#c10a2e" textLength="27.8" lengthAdjust="spacingAndGlyphs">shRX</text>
<text x="421.6" y="907" font-size="12.2" text-anchor="middle" fill="#c10a2e" textLength="22.4" lengthAdjust="spacingAndGlyphs">Mks</text>
</g>
</svg>
</body></html>
